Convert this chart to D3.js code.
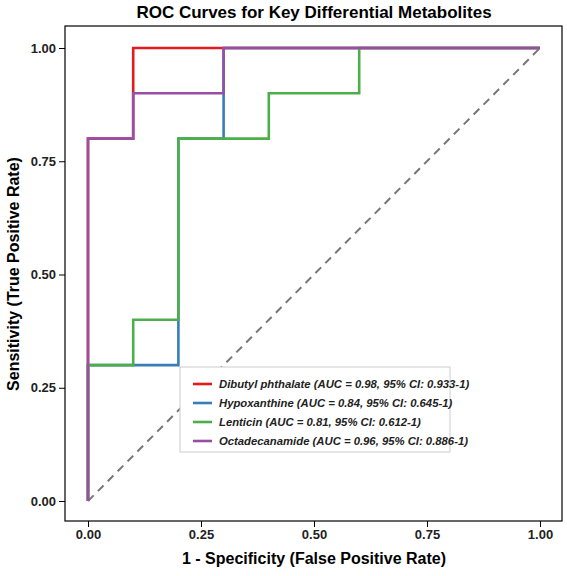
<!DOCTYPE html><html><head><meta charset="utf-8">
<script src="https://cdn.jsdelivr.net/npm/d3@7"></script>
<style>body{margin:0;background:#fff}text{font-family:Arial,"Liberation Sans",sans-serif}</style></head><body>
<svg id="c" width="567" height="576"></svg>
<script>
const names=["Dibutyl phthalate","Hypoxanthine","Lenticin","Octadecanamide"];
const labels=["Dibutyl phthalate (AUC = 0.98, 95% CI: 0.933-1)","Hypoxanthine (AUC = 0.84, 95% CI: 0.645-1)","Lenticin (AUC = 0.81, 95% CI: 0.612-1)","Octadecanamide (AUC = 0.96, 95% CI: 0.886-1)"];
const colors=["#e41a1c","#377eb8","#4daf4a","#984ea3"];
const fpr=[[0,0,0.1,0.1,1],[0,0,0.2,0.2,0.3,0.3,1],[0,0,0.1,0.1,0.2,0.2,0.4,0.4,0.6,0.6,1],[0,0,0.1,0.1,0.3,0.3,1]];
const tpr=[[0,0.8,0.8,1,1],[0,0.3,0.3,0.8,0.8,1,1],[0,0.3,0.3,0.4,0.4,0.8,0.8,0.9,0.9,1,1],[0,0.8,0.8,0.9,0.9,1,1]];
const ticks=[0,0.25,0.5,0.75,1];
const svg=d3.select("#c");
const x=d3.scaleLinear().domain([0,1]).range([88,540]);
const y=d3.scaleLinear().domain([0,1]).range([501,48]);
svg.append("rect").attr("x",65).attr("y",26).attr("width",497).attr("height",495).attr("fill","none").attr("stroke","#000").attr("stroke-width",1.2);
svg.append("line").attr("x1",x(0)).attr("y1",y(0)).attr("x2",x(1)).attr("y2",y(1)).attr("stroke","#777").attr("stroke-width",2).attr("stroke-dasharray","8,6");
const line=d3.line().x(d=>x(d[0])).y(d=>y(d[1]));
names.forEach((n,i)=>{svg.append("path").attr("d",line(fpr[i].map((v,j)=>[v,tpr[i][j]]))).attr("fill","none").attr("stroke",colors[i]).attr("stroke-width",2.6);});
svg.append("g").attr("transform","translate(0,521)").call(d3.axisBottom(x).tickValues(ticks).tickFormat(d3.format(".2f")).tickSizeOuter(0)).call(g=>{g.select(".domain").remove();g.selectAll("text").attr("font-size",13).attr("font-weight","bold").attr("fill","#222");});
svg.append("g").attr("transform","translate(65,0)").call(d3.axisLeft(y).tickValues(ticks).tickFormat(d3.format(".2f")).tickSizeOuter(0)).call(g=>{g.select(".domain").remove();g.selectAll("text").attr("font-size",13).attr("font-weight","bold").attr("fill","#222");});
svg.append("text").attr("x",314).attr("y",18).attr("text-anchor","middle").attr("font-size",17).attr("font-weight","bold").text("ROC Curves for Key Differential Metabolites");
svg.append("text").attr("x",314).attr("y",564).attr("text-anchor","middle").attr("font-size",16).attr("font-weight","bold").text("1 - Specificity (False Positive Rate)");
svg.append("text").attr("transform","translate(19,274) rotate(-90)").attr("text-anchor","middle").attr("font-size",16).attr("font-weight","bold").text("Sensitivity (True Positive Rate)");
const lg=svg.append("g");
lg.append("rect").attr("x",180).attr("y",367).attr("width",270).attr("height",85).attr("fill","#fff").attr("stroke","#ccc");
labels.forEach((l,i)=>{const yy=384+i*19;
lg.append("line").attr("x1",193).attr("x2",212).attr("y1",yy).attr("y2",yy).attr("stroke",colors[i]).attr("stroke-width",2.6);
lg.append("text").attr("x",219).attr("y",yy+4).attr("font-size",11.3).attr("font-weight","bold").attr("font-style","italic").attr("fill","#222").text(l);});
</script></body></html>
